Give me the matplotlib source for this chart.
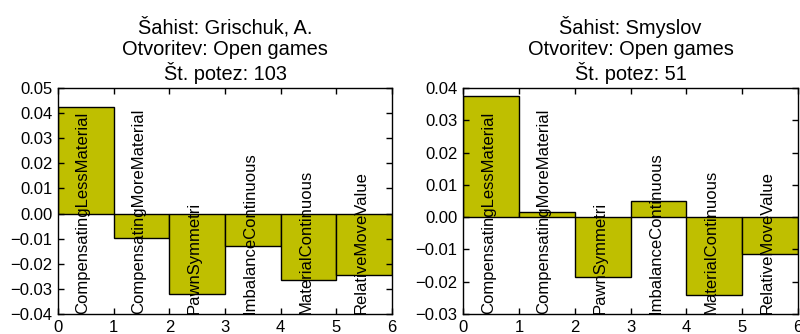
import matplotlib
matplotlib.use("Agg")
import matplotlib.pyplot as plt
from matplotlib.ticker import MultipleLocator

plt.rcParams['font.family'] = ['Liberation Sans', 'DejaVu Sans']
plt.rcParams['font.size'] = 12

features = ["CompensatingLessMaterial", "CompensatingMoreMaterial", "PawnSymmetri",
            "ImbalanceContinuous", "MaterialContinuous", "RelativeMoveValue"]

grischuk_vals = [0.0425, -0.0097, -0.0321, -0.0130, -0.0265, -0.0245]
smyslov_vals = [0.0374, 0.0017, -0.0186, 0.0050, -0.0241, -0.0114]

titles = ["Šahist: Grischuk, A.\nOtvoritev: Open games\nŠt. potez: 103",
          "Šahist: Smyslov\nOtvoritev: Open games\nŠt. potez: 51"]
ylims = [(-0.04, 0.05), (-0.03, 0.04)]
xticks = [0, 1, 2, 3, 4, 5, 6]

fig = plt.figure(figsize=(8, 3.34), dpi=100)
positions = [[0.0725, 0.06, 0.4175, 0.6765], [0.579, 0.06, 0.4185, 0.6765]]

for pos, vals, title, ylim in zip(positions, [grischuk_vals, smyslov_vals], titles, ylims):
    ax = fig.add_axes(pos)
    idx = list(range(len(vals)))
    ax.bar(idx, vals, width=1.0, align='edge', color=(0.75, 0.75, 0.0),
           edgecolor='black', linewidth=1.0)
    ax.set_xlim(0, 6)
    ax.set_ylim(*ylim)
    ax.set_xticks(xticks)
    ax.yaxis.set_major_locator(MultipleLocator(0.01))
    ax.tick_params(direction='in', top=True, right=True, length=4, width=1,
                   labelsize=12, pad=4)
    for s in ax.spines.values():
        s.set_linewidth(1.0)
    for i, name in enumerate(features):
        ax.text(i + 0.45, ylim[0], name, rotation=90, ha='center', va='bottom', fontsize=12)
    ax.set_title(title, fontsize=14.4, linespacing=1.15, pad=6)

fig.savefig("out.png", dpi=100)
